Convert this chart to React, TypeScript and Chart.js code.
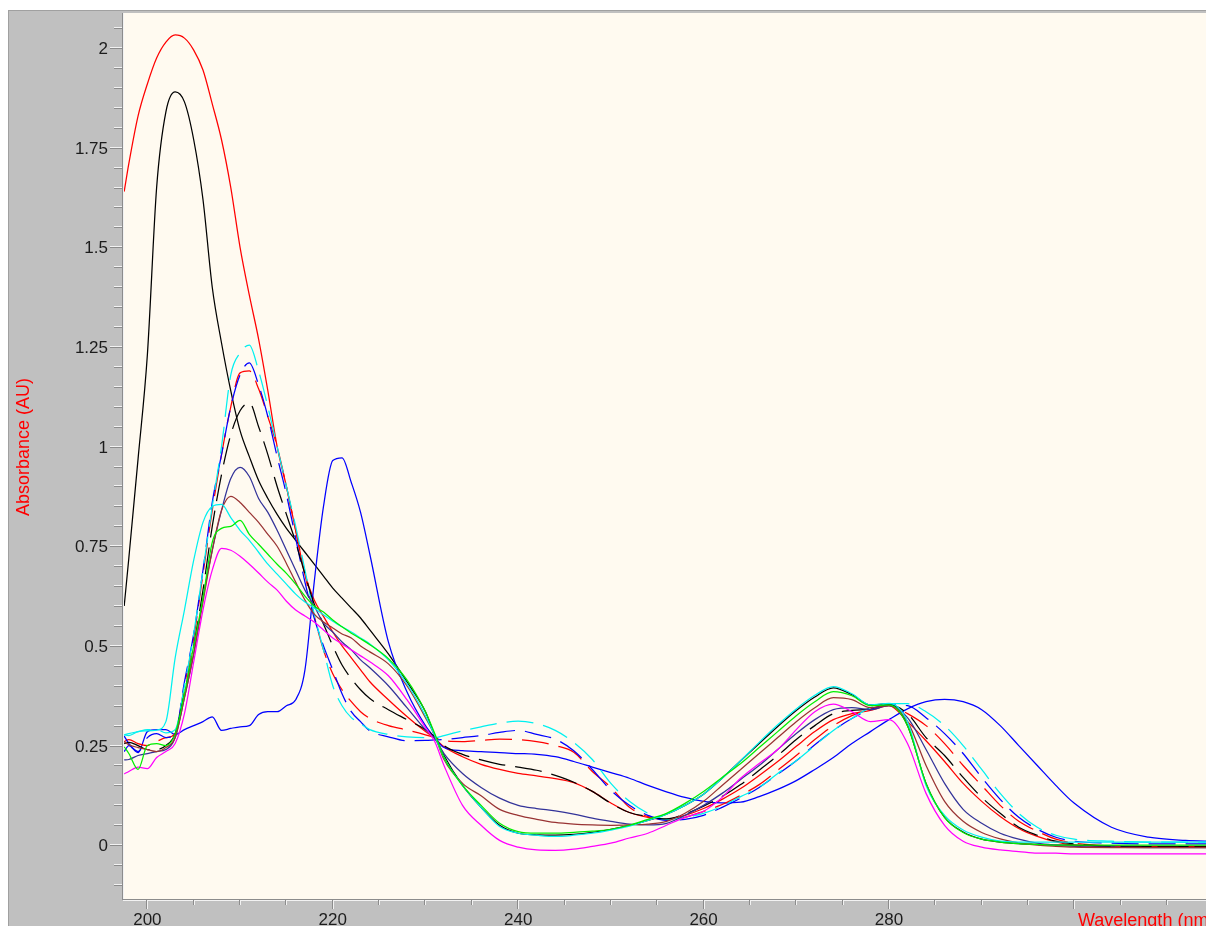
import { useEffect, useRef } from "react";
import { Chart, registerables } from "chart.js";

Chart.register(...registerables);

// Wavelength grid (nm) shared by every spectrum
const WAVELENGTH_NM = [
  197.5,
  198, 199, 200, 201, 202, 203, 204, 205, 206, 207,
  208, 209, 210, 211, 212, 213, 214, 215, 216, 217,
  218, 219, 220, 221, 222, 223, 224,
  226, 228, 230, 231, 232,
  234, 236, 238, 240, 242, 244, 246, 248, 250, 252,
  254, 256, 258, 260, 262, 264, 266, 268, 270, 272,
  274, 276, 278, 280, 282, 284, 286, 288, 290, 292,
  294, 296, 298, 300,
  304, 308, 312, 315,
];

// Absorbance (AU) of each spectrum at the wavelengths above
const RED_SOLID = [
  1.64,
  1.71, 1.83, 1.91, 1.975, 2.015, 2.033, 2.025, 1.995, 1.945, 1.86,
  1.77, 1.65, 1.5, 1.38, 1.27, 1.14, 1.0, 0.9, 0.79, 0.68,
  0.615, 0.574, 0.535, 0.5, 0.47, 0.44, 0.41,
  0.365, 0.323, 0.285, 0.268, 0.247,
  0.222, 0.203, 0.19, 0.18, 0.174, 0.167, 0.157, 0.135, 0.106, 0.082,
  0.07, 0.065, 0.075, 0.092, 0.115, 0.142, 0.175, 0.21, 0.248, 0.285,
  0.315, 0.33, 0.338, 0.35, 0.31, 0.262, 0.21, 0.155, 0.11, 0.072,
  0.042, 0.022, 0.008, 0.0,
  -0.004, -0.005, -0.005, -0.005,
];

const BLACK_SOLID = [
  0.6,
  0.72, 0.97, 1.23, 1.65, 1.84, 1.89, 1.865, 1.77, 1.62, 1.4,
  1.26, 1.14, 1.04, 0.975, 0.915, 0.87, 0.83, 0.795, 0.765, 0.735,
  0.705, 0.675, 0.645, 0.62, 0.595, 0.57, 0.54,
  0.48, 0.41, 0.335, 0.275, 0.225,
  0.15, 0.095, 0.05, 0.03, 0.026, 0.025, 0.027, 0.032, 0.04, 0.05,
  0.062, 0.078, 0.1, 0.128, 0.168, 0.212, 0.255, 0.298, 0.338, 0.372,
  0.395, 0.378, 0.352, 0.355, 0.3, 0.155, 0.07, 0.033, 0.015, 0.008,
  0.004, 0.002, 0.0, 0.0,
  -0.002, -0.003, -0.003, -0.003,
];

const BLUE_SOLID = [
  0.235,
  0.25, 0.232, 0.285, 0.29, 0.29, 0.278, 0.29, 0.3, 0.31, 0.322,
  0.288, 0.293, 0.297, 0.3, 0.328, 0.335, 0.335, 0.35, 0.365, 0.44,
  0.66, 0.85, 0.965, 0.972, 0.91, 0.835, 0.73,
  0.51, 0.385, 0.3, 0.27, 0.245,
  0.237, 0.235, 0.232, 0.23, 0.228, 0.222, 0.21, 0.196, 0.182, 0.168,
  0.15, 0.134, 0.12, 0.11, 0.106, 0.108, 0.122, 0.14, 0.162, 0.19,
  0.22, 0.255, 0.285, 0.315, 0.342, 0.36, 0.366, 0.36, 0.34, 0.3,
  0.25, 0.2, 0.15, 0.105,
  0.045, 0.02, 0.012, 0.01,
];

const CYAN_DASHED = [
  0.277,
  0.28, 0.285, 0.29, 0.29, 0.282, 0.29, 0.4, 0.53, 0.69, 0.85,
  1.0, 1.18, 1.235, 1.255, 1.19, 1.1, 1.0, 0.9, 0.8, 0.69,
  0.58, 0.49, 0.4, 0.35, 0.32, 0.305, 0.29,
  0.278, 0.272, 0.27, 0.27, 0.275,
  0.287, 0.297, 0.306, 0.311, 0.305, 0.288, 0.258, 0.215, 0.155, 0.11,
  0.08, 0.065, 0.07, 0.08, 0.098, 0.122, 0.145, 0.18, 0.212, 0.25,
  0.288, 0.318, 0.345, 0.355, 0.355, 0.335, 0.3, 0.25, 0.19, 0.13,
  0.08, 0.045, 0.025, 0.015,
  0.01, 0.008, 0.008, 0.008,
];

const BLUE_DASHED = [
  0.274,
  0.255, 0.235, 0.27, 0.28, 0.27, 0.28, 0.41, 0.53, 0.69, 0.86,
  0.98, 1.1, 1.18, 1.21, 1.155, 1.075, 0.975, 0.88, 0.77, 0.66,
  0.57, 0.5, 0.44, 0.38, 0.335, 0.31, 0.287,
  0.272, 0.262, 0.263, 0.264, 0.265,
  0.27, 0.275, 0.283, 0.288, 0.278, 0.266, 0.237, 0.19, 0.138, 0.1,
  0.075, 0.062, 0.065, 0.075, 0.095, 0.118, 0.145, 0.178, 0.212, 0.252,
  0.288, 0.318, 0.34, 0.352, 0.35, 0.32, 0.28, 0.23, 0.17, 0.115,
  0.07, 0.04, 0.02, 0.01,
  0.005, 0.003, 0.003, 0.003,
];

const RED_DASHED = [
  0.26,
  0.265, 0.255, 0.25, 0.26, 0.27, 0.28, 0.4, 0.52, 0.68, 0.84,
  0.98, 1.1, 1.185, 1.19, 1.145, 1.075, 1.0, 0.9, 0.79, 0.68,
  0.575, 0.49, 0.43, 0.39, 0.36, 0.335, 0.318,
  0.3, 0.289, 0.277, 0.27, 0.262,
  0.26, 0.263, 0.266, 0.265, 0.26, 0.25, 0.233, 0.185, 0.145, 0.095,
  0.072, 0.065, 0.07, 0.085, 0.102, 0.125, 0.152, 0.188, 0.225, 0.265,
  0.3, 0.325, 0.342, 0.352, 0.33, 0.3, 0.255, 0.2, 0.15, 0.1,
  0.06, 0.035, 0.015, 0.005,
  -0.002, -0.004, -0.004, -0.004,
];

const BLACK_DASHED = [
  0.255,
  0.258, 0.25, 0.24, 0.24, 0.25, 0.28, 0.38, 0.5, 0.64, 0.8,
  0.93, 1.03, 1.09, 1.11, 1.05, 0.98, 0.9, 0.83, 0.76, 0.68,
  0.605, 0.555, 0.5, 0.452, 0.418, 0.39, 0.368,
  0.34, 0.315, 0.29, 0.272, 0.25,
  0.228, 0.214, 0.203, 0.196, 0.188, 0.175, 0.158, 0.135, 0.105, 0.082,
  0.072, 0.066, 0.078, 0.098, 0.122, 0.152, 0.188, 0.225, 0.265, 0.3,
  0.33, 0.338, 0.342, 0.352, 0.33, 0.27, 0.225, 0.17, 0.12, 0.08,
  0.045, 0.025, 0.01, 0.003,
  -0.003, -0.004, -0.004, -0.004,
];

const NAVY_SOLID = [
  0.214,
  0.215, 0.225, 0.23, 0.235, 0.24, 0.27, 0.37, 0.48, 0.62, 0.74,
  0.84, 0.92, 0.948, 0.925, 0.87, 0.835, 0.79, 0.74, 0.69, 0.64,
  0.6, 0.557, 0.535, 0.51, 0.49, 0.465, 0.445,
  0.4, 0.345, 0.29, 0.268, 0.23,
  0.18, 0.145, 0.118, 0.1, 0.092, 0.086, 0.078, 0.068, 0.06, 0.053,
  0.051, 0.055, 0.075, 0.1, 0.13, 0.165, 0.2, 0.24, 0.28, 0.315,
  0.34, 0.345, 0.34, 0.35, 0.32, 0.24, 0.155, 0.09, 0.055, 0.03,
  0.015, 0.005, 0.0, -0.003,
  -0.005, -0.006, -0.006, -0.006,
];

const BROWN_SOLID = [
  0.26,
  0.252, 0.245, 0.24, 0.235, 0.245, 0.27, 0.37, 0.48, 0.61, 0.74,
  0.84, 0.875, 0.86, 0.835, 0.81, 0.78, 0.75, 0.707, 0.66, 0.615,
  0.58, 0.56, 0.545, 0.53, 0.52, 0.5, 0.485,
  0.455, 0.4, 0.32, 0.275, 0.215,
  0.155, 0.124, 0.09, 0.075, 0.065, 0.057, 0.053, 0.051, 0.05, 0.051,
  0.053, 0.06, 0.08, 0.11, 0.15, 0.19, 0.23, 0.27, 0.31, 0.345,
  0.37, 0.365, 0.345, 0.35, 0.31, 0.2, 0.11, 0.06, 0.032, 0.016,
  0.006, 0.0, -0.003, -0.005,
  -0.006, -0.006, -0.006, -0.006,
];

const GREEN_SOLID = [
  0.247,
  0.23, 0.19, 0.25, 0.255, 0.25, 0.28, 0.38, 0.5, 0.62, 0.76,
  0.795, 0.8, 0.815, 0.78, 0.755, 0.73, 0.705, 0.682, 0.655, 0.625,
  0.6, 0.585, 0.565, 0.548, 0.532, 0.518, 0.503,
  0.468, 0.415, 0.335, 0.28, 0.22,
  0.15, 0.1, 0.055, 0.034, 0.03, 0.03, 0.032, 0.035, 0.04, 0.05,
  0.065, 0.08, 0.105, 0.135, 0.17, 0.205, 0.245, 0.285, 0.325, 0.36,
  0.385, 0.375, 0.35, 0.352, 0.3, 0.155, 0.07, 0.032, 0.015, 0.008,
  0.004, 0.002, 0.0, 0.0,
  0.0, 0.0, 0.0, 0.0,
];

const CYAN_SOLID = [
  0.277,
  0.275, 0.285, 0.287, 0.289, 0.31, 0.47, 0.59, 0.715, 0.81, 0.85,
  0.855, 0.822, 0.79, 0.765, 0.735, 0.705, 0.68, 0.655, 0.63, 0.61,
  0.595, 0.578, 0.562, 0.548, 0.535, 0.52, 0.505,
  0.465, 0.405, 0.325, 0.275, 0.22,
  0.15, 0.095, 0.047, 0.03, 0.025, 0.022, 0.025, 0.03, 0.038, 0.048,
  0.062, 0.078, 0.1, 0.128, 0.168, 0.212, 0.258, 0.302, 0.342, 0.376,
  0.398, 0.38, 0.352, 0.356, 0.31, 0.15, 0.075, 0.038, 0.02, 0.01,
  0.008, 0.008, 0.008, 0.008,
  0.008, 0.008, 0.008, 0.008,
];

const MAGENTA_SOLID = [
  0.179,
  0.185, 0.196, 0.192, 0.22, 0.235, 0.255, 0.33, 0.46, 0.59, 0.69,
  0.745, 0.74, 0.725, 0.705, 0.683, 0.66, 0.64, 0.612, 0.59, 0.575,
  0.56, 0.54, 0.52, 0.505, 0.49, 0.475, 0.46,
  0.425, 0.365, 0.295, 0.26, 0.2,
  0.1, 0.05, 0.012, -0.005, -0.012, -0.013, -0.01, -0.003, 0.005, 0.018,
  0.03, 0.05, 0.07, 0.085, 0.12, 0.168, 0.205, 0.24, 0.29, 0.335,
  0.354, 0.335, 0.31, 0.315, 0.255, 0.13, 0.05, 0.01, -0.005, -0.012,
  -0.016, -0.02, -0.02, -0.022,
  -0.022, -0.022, -0.022, -0.022,
];

// Axis ranges and ticks
const X_MIN = 197.48;
const X_MAX = 314.2;
const Y_MIN = -0.135;
const Y_MAX = 2.088;
const X_LABEL_TICKS = [200, 220, 240, 260, 280];
const X_MAJOR_STEP = 20;
const X_MINOR_STEP = 5;
const Y_LABEL_TICKS = [0, 0.25, 0.5, 0.75, 1, 1.25, 1.5, 1.75, 2];
const Y_MAJOR_STEP = 0.25;
const Y_MINOR_STEP = 0.05;

const X_TITLE = "Wavelength (nm)";
const Y_TITLE = "Absorbance (AU)";

const DASH = [27, 10];

// Listed top-most first (Chart.js paints the first dataset last)
const TRACES = [
  { name: "green", values: GREEN_SOLID, color: "#00ee00", dash: [] as number[] },
  { name: "cyan", values: CYAN_SOLID, color: "#00f0f0", dash: [] as number[] },
  { name: "magenta", values: MAGENTA_SOLID, color: "#ff00ff", dash: [] as number[] },
  { name: "brown", values: BROWN_SOLID, color: "#993333", dash: [] as number[] },
  { name: "navy", values: NAVY_SOLID, color: "#333399", dash: [] as number[] },
  { name: "black dashed", values: BLACK_DASHED, color: "#000000", dash: DASH },
  { name: "cyan dashed", values: CYAN_DASHED, color: "#00f0f0", dash: DASH },
  { name: "blue dashed", values: BLUE_DASHED, color: "#0000ff", dash: DASH },
  { name: "red dashed", values: RED_DASHED, color: "#ff0000", dash: DASH },
  { name: "blue", values: BLUE_SOLID, color: "#0000ff", dash: [] as number[] },
  { name: "black", values: BLACK_SOLID, color: "#000000", dash: [] as number[] },
  { name: "red", values: RED_SOLID, color: "#ff0000", dash: [] as number[] },
];

const PANEL_GRAY = "#c0c0c0";
const PLOT_CREAM = "#fffaf0";
const EDGE_DARK = "#8c8c8c";
const EDGE_LIGHT = "#f2f2f2";
const LABEL_FONT = '17px "Liberation Sans", Arial, sans-serif';
const TITLE_FONT = '18px "Liberation Sans", Arial, sans-serif';

function isMultiple(v: number, step: number) {
  const r = v / step;
  return Math.abs(r - Math.round(r)) < 1e-6;
}

const spectrumFrame = {
  id: "spectrumFrame",
  beforeDraw(chart: any) {
    const { ctx, width, height, chartArea: a } = chart;
    ctx.save();
    ctx.fillStyle = PANEL_GRAY;
    ctx.fillRect(0, 0, width, height);
    ctx.fillStyle = "#a0a0a0";
    ctx.fillRect(0, 0, width, 1);
    ctx.fillRect(0, 0, 1, height);
    ctx.fillStyle = PLOT_CREAM;
    ctx.fillRect(a.left, a.top, a.right - a.left, a.bottom - a.top);
    ctx.restore();
  },
  afterDraw(chart: any) {
    const { ctx, chartArea: a, scales } = chart;
    const xs = scales.x;
    const ys = scales.y;
    ctx.save();

    // y axis line (etched)
    ctx.fillStyle = EDGE_DARK;
    ctx.fillRect(a.left - 2, a.top, 1, a.bottom - a.top + 1);
    ctx.fillStyle = EDGE_LIGHT;
    ctx.fillRect(a.left - 1, a.top, 1, a.bottom - a.top + 1);

    // x axis line (etched)
    ctx.fillStyle = EDGE_DARK;
    ctx.fillRect(a.left - 2, a.bottom, a.right - a.left + 2, 1);
    ctx.fillStyle = EDGE_LIGHT;
    ctx.fillRect(a.left - 1, a.bottom + 1, a.right - a.left + 1, 1);

    // y ticks
    const yStart = Math.ceil(Y_MIN / Y_MINOR_STEP);
    const yEnd = Math.floor(Y_MAX / Y_MINOR_STEP);
    for (let k = yStart; k <= yEnd; k++) {
      const v = k * Y_MINOR_STEP;
      const py = Math.round(ys.getPixelForValue(v));
      const len = isMultiple(v, Y_MAJOR_STEP) ? 12 : 8;
      ctx.fillStyle = EDGE_LIGHT;
      ctx.fillRect(a.left - 2 - len, py - 1, len, 1);
      ctx.fillStyle = EDGE_DARK;
      ctx.fillRect(a.left - 2 - len, py, len, 1);
    }

    // x ticks
    const xStart = Math.ceil(X_MIN / X_MINOR_STEP);
    const xEnd = Math.floor(X_MAX / X_MINOR_STEP);
    for (let k = xStart; k <= xEnd; k++) {
      const v = k * X_MINOR_STEP;
      const px = Math.round(xs.getPixelForValue(v));
      const len = isMultiple(v, X_MAJOR_STEP) ? 9 : 5;
      ctx.fillStyle = EDGE_DARK;
      ctx.fillRect(px - 1, a.bottom + 1, 1, len);
      ctx.fillStyle = EDGE_LIGHT;
      ctx.fillRect(px, a.bottom + 1, 1, len);
    }

    // tick labels
    ctx.font = LABEL_FONT;
    ctx.fillStyle = "#1c1c1c";
    ctx.textBaseline = "alphabetic";
    ctx.textAlign = "right";
    for (const v of Y_LABEL_TICKS) {
      const py = ys.getPixelForValue(v);
      ctx.fillText(String(v), a.left - 16, py + 6);
    }
    ctx.textAlign = "center";
    for (const v of X_LABEL_TICKS) {
      const px = xs.getPixelForValue(v);
      ctx.fillText(String(v), px, a.bottom + 26);
    }

    // axis titles
    ctx.font = TITLE_FONT;
    ctx.fillStyle = "#ff0000";
    ctx.textAlign = "left";
    ctx.fillText(X_TITLE, 1070, a.bottom + 27);

    ctx.save();
    ctx.translate(20.5, 437);
    ctx.rotate(-Math.PI / 2);
    ctx.textAlign = "center";
    ctx.fillText(Y_TITLE, 0, 0);
    ctx.restore();

    ctx.restore();
  },
};

export default function App() {
  const canvasRef = useRef<HTMLCanvasElement | null>(null);

  useEffect(() => {
    const canvas = canvasRef.current;
    if (!canvas) return;
    const chart = new Chart(canvas, {
      type: "line",
      data: {
        datasets: TRACES.map((t) => ({
          label: t.name,
          data: WAVELENGTH_NM.map((x, i) => ({ x, y: t.values[i] })),
          borderColor: t.color,
          backgroundColor: t.color,
          borderDash: t.dash,
          borderWidth: 1.25,
          pointRadius: 0,
          fill: false,
          cubicInterpolationMode: "monotone" as const,
        })),
      },
      options: {
        animation: false,
        responsive: false,
        devicePixelRatio: 1,
        events: [],
        layout: { padding: { left: 116, top: 3, right: 0, bottom: 27 } },
        plugins: {
          legend: { display: false },
          tooltip: { enabled: false },
        },
        scales: {
          x: { type: "linear", display: false, min: X_MIN, max: X_MAX },
          y: { type: "linear", display: false, min: Y_MIN, max: Y_MAX },
        },
      },
      plugins: [spectrumFrame],
    });
    return () => chart.destroy();
  }, []);

  return (
    <div style={{ position: "fixed", left: 8, top: 10, width: 1198, height: 916 }}>
      <canvas ref={canvasRef} width={1198} height={916} style={{ display: "block" }} />
    </div>
  );
}
